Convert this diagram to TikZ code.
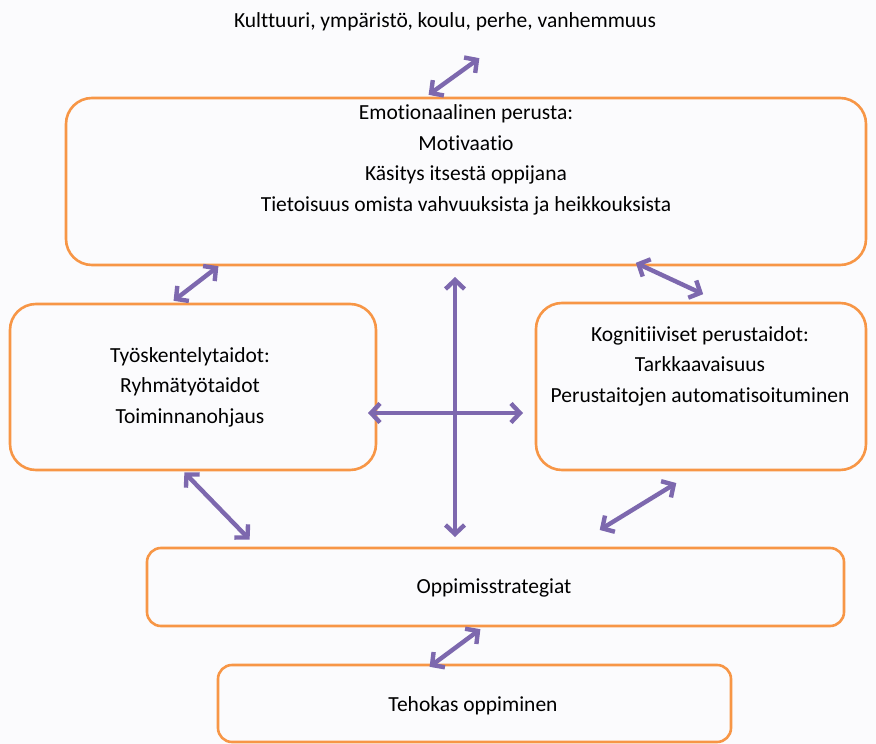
\documentclass[tikz,border=0pt]{standalone}
\usepackage{fontspec}
\setmainfont[Ligatures=NoCommon]{Carlito}
\usetikzlibrary{arrows.meta}
\definecolor{boxorange}{HTML}{F79646}
\definecolor{arrpurple}{HTML}{7D68AE}
\definecolor{bgc}{HTML}{FBFBFD}
\tikzset{
  rbox/.style={draw=boxorange, line width=2.6pt, rounded corners=26pt},
  lbl/.style={align=center, font=\fontsize{21.5}{30.5}\selectfont, inner sep=0pt},
  dbl/.style={draw=arrpurple, line width=4.4pt, {Straight Barb[length=9pt,width=19pt]}-{Straight Barb[length=9pt,width=19pt]}, shorten <=2pt, shorten >=2pt},
}
\begin{document}
\begin{tikzpicture}[x=1pt,y=-1pt]
\useasboundingbox (0,0) rectangle (876,744);
\fill[bgc] (0,0) rectangle (876,744);
% boxes
\draw[rbox] (66,98) rectangle (866,265);
\draw[rbox] (10,304) rectangle (376,470);
\draw[rbox] (536,303) rectangle (866,470);
\draw[rbox, rounded corners=14pt] (147,548) rectangle (844,626);
\draw[rbox, rounded corners=14pt] (218,665) rectangle (731,742);
% texts
\node[lbl] (top) at (445,22) {Kulttuuri, ympäristö, koulu, perhe, vanhemmuus};
\node[lbl] (emo) at (466,160) {Emotionaalinen perusta:\\Motivaatio\\Käsitys itsestä oppijana\\Tietoisuus omista vahvuuksista ja heikkouksista};
\node[lbl] (work) at (190,387) {Työskentelytaidot:\\Ryhmätyötaidot\\Toiminnanohjaus};
\node[lbl] (cog) at (700,366) {Kognitiiviset perustaidot:\\Tarkkaavaisuus\\Perustaitojen automatisoituminen};
\node[lbl] (strat) at (494,588) {Oppimisstrategiat};
\node[lbl] (eff) at (473,706) {Tehokas oppiminen};
% arrow endpoints
\coordinate (a1) at (427,96);  \coordinate (a2) at (481,57);
\coordinate (b1) at (220,265); \coordinate (b2) at (172,302);
\coordinate (c1) at (634,262); \coordinate (c2) at (705,295);
\coordinate (v1) at (455,275); \coordinate (v2) at (455,539);
\coordinate (h1) at (366,413); \coordinate (h2) at (525,413);
\coordinate (d1) at (183,471); \coordinate (d2) at (251,541);
\coordinate (e1) at (678,482); \coordinate (e2) at (598,531);
\coordinate (f1) at (482,628); \coordinate (f2) at (428,668);
\draw[dbl] (a1) -- (a2);
\draw[dbl] (b1) -- (b2);
\draw[dbl] (c1) -- (c2);
\draw[dbl] (v1) -- (v2);
\draw[dbl] (h1) -- (h2);
\draw[dbl] (d1) -- (d2);
\draw[dbl] (e1) -- (e2);
\draw[dbl] (f1) -- (f2);
\end{tikzpicture}
\end{document}
